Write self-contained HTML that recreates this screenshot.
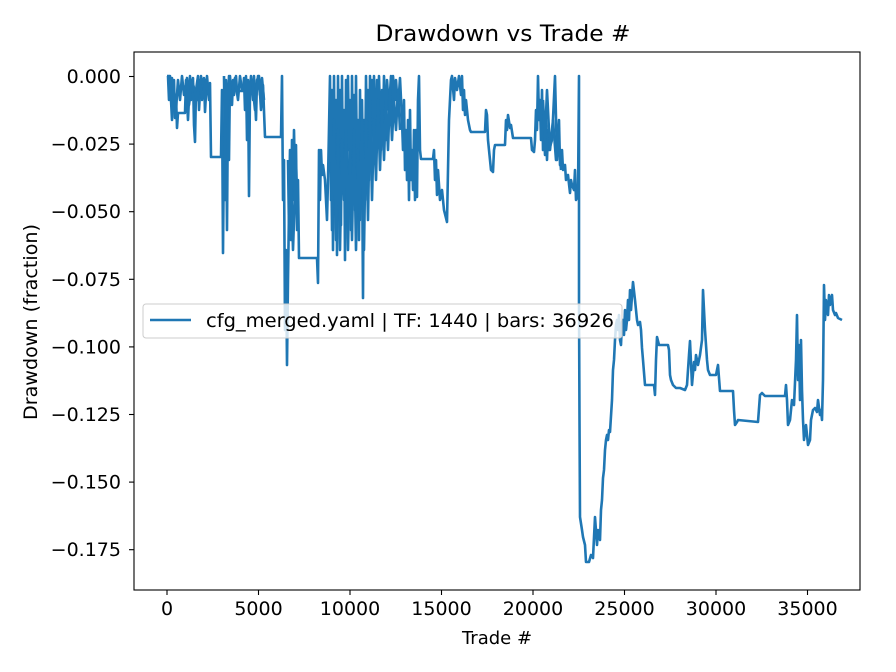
<!DOCTYPE html>
<html><head><meta charset="utf-8"><style>body{margin:0;background:#fff}svg{display:block}text{font-family:"DejaVu Sans","Liberation Sans",sans-serif;fill:#000}</style></head>
<body>
<svg width="896" height="672" viewBox="0 0 896 672" xmlns="http://www.w3.org/2000/svg">
<rect width="896" height="672" fill="#fff"/>
<text x="503" y="41" font-size="22" text-anchor="middle" textLength="255" lengthAdjust="spacingAndGlyphs">Drawdown vs Trade #</text>
<g stroke="#1f77b4" stroke-width="2.6" fill="none" stroke-linejoin="round">
<polyline points="167,76 170,76 171,90 172,78 173,110 174,80 175,118 176,95 177,128 178,113 185,113 186,80 188,120 190,76 191,100 193,78 194,125 195,142 196,90 198,76 199,110 201,76 203,90 204,78 205,112 207,76 209,100 210,83 211,157 221,157 222,90 223,253 224,140 225,200 226,110 227,230 228,95 229,160 230,76 232,105 233,80 234,95 236,76 237,91 243,91 244,78 245,110 246,76 247,140 248,80 249,196 250,90 251,76 253,100 254,76 256,120 257,80 259,76 261,110 263,85 265,137 281,137 282,76 283,200 284,160 285,330 286,250 287,365 288,280 289,210 290,150 291,240 292,140 293,200 294,130 295,180 296,145 297,230 298,180 299,258 317,258 318,283 319,150 320,200 321,150 322,175 323,165 325,180 327,220 328,180 330,76 331,200 332,90 333,250 334,76 335,180 336,100 337,255 338,76 339,170 340,90 341,225 342,76 343,190 344,110 345,260 346,80 347,200 348,76 349,150 350,100 351,230 352,76 353,170 354,95 355,210 356,76 357,180 358,120 359,240 360,90 361,200 362,150 363,298 364,120 365,200 366,76 367,150 368,90 369,180 370,76 371,150 372,80 373,130 374,76 376,160 377,80 378,120 379,76 381,150 382,90 383,130 384,76 386,140 387,80 389,110 391,76 392,120 393,76 395,100 396,80 398,110 400,78 402,120 403,150 404,100 405,170 406,130 407,180 408,120 409,200 410,110 411,180 412,150 413,190 414,130 415,200 416,130 417,197 418,100 419,76 420,150 421,159 433,159 434,150 435,180 436,160 437,195 438,170 440,200 442,190 444,210 447,222 448,170 449,120 450,100 451,80 452,76 454,100 455,78 457,90 459,76 461,95 462,76 463,110 464,90 465,115 466,100 468,120 470,130 471,132 485,132 486,110 487,115 488,140 490,160 491,170 493,172 494,150 495,145 505,145 506,120 507,130 508,115 510,128 511,125 513,138 518,138 531,138 532,150 534,152 535,140 536,110 537,130 538,76 539,120 540,100 541,140 542,90 543,150 544,130 545,155 546,120 547,160 548,130 549,150 552,140 555,76 557,160 559,120 560,165 562,150 563,170 565,165 566,180 568,175 570,193 571,180 572,185 574,190 575,170 576,200 578,195 579,76 579,300 579.5,420 580,517 582,530 583,537 585,545 586,562 589,562 591,555 593,558 595,517 597,545 598,530 600,540 601,510 602,500 603,478 604,470 605,450 606,440 607,435 608,440 609,430 610,432 612,400 613,370 614,360 615,340 616,325 617,320 618,330 619,315 620,340 621,345 622,322 623,320 624,335 625,310 626,330 627,320 628,300 629,320 630,290 631,310 633,282 635,300 637,320 638,325 640,322 641,330 642,348 643,360 645,385 654,385 655,395 656,360 657,337 659,345 668,345 669,350 670,375 671,380 673,385 676,388 680,388 685,390 687,385 688,370 689,355 690,341 692,385 694,362 695,370 696,355 698,365 700,355 702,340 703,290 705,330 707,360 708,370 710,375 712,375 716,375 718,365 720,391 733,391 734,410 735,425 737,422 738,420 758,422 760,395 762,393 765,396 785,396 786,385 787,400 788,425 790,420 792,400 794,405 796,360 797,315 798,380 799,345 800,400 801,340 802,390 803,420 804,440 806,425 808,445 810,440 811,420 813,410 815,408 817,412 818,400 820,415 821,410 822,420 823,380 824,285 825,320 826,300 827,310 828,315 829,295 830,305 831,300 832,295 833,310 835,315 836,313 838,318 842,320"/>
<polyline points="168,76 169,100 170,80 172,120 174,90 176,110 178,80 180,100 182,76 184,95 187,78 189,105 192,80 197,100 200,80 202,100 206,80 208,95"/>
<polyline points="224,76 225,160 226,80 227,120 229,76 231,100 235,78 238,100 240,76 242,90"/>
<polyline points="252,80 255,110 258,76 260,95 262,78 264,100"/>
<polyline points="288,160 289,230 291,170 293,250 296,160 297,200"/>
<polyline points="331,130 332,230 334,120 336,240 338,130 340,250 342,140 344,200 346,130 348,250 350,150 352,240 354,130 356,250 358,150 360,220 362,100 364,250 366,120 368,220 370,100 372,200 374,120 376,180 378,100 380,170 382,110 384,160 386,100 388,150 390,90 392,140 394,100 396,130 398,90 400,130"/>
<polyline points="543,100 545,140 547,90 550,150 553,120 556,160 558,130 561,170"/>
</g>
<rect x="134" y="52" width="726" height="538" fill="none" stroke="#000" stroke-width="1.1"/>
<g stroke="#000" stroke-width="1.1">
<line x1="167" y1="590" x2="167" y2="595"/><line x1="258.5" y1="590" x2="258.5" y2="595"/><line x1="350" y1="590" x2="350" y2="595"/><line x1="441.5" y1="590" x2="441.5" y2="595"/><line x1="533" y1="590" x2="533" y2="595"/><line x1="624.5" y1="590" x2="624.5" y2="595"/><line x1="716" y1="590" x2="716" y2="595"/><line x1="807.5" y1="590" x2="807.5" y2="595"/>
<line x1="129" y1="76.5" x2="134" y2="76.5"/><line x1="129" y1="144.1" x2="134" y2="144.1"/><line x1="129" y1="211.7" x2="134" y2="211.7"/><line x1="129" y1="279.3" x2="134" y2="279.3"/><line x1="129" y1="346.9" x2="134" y2="346.9"/><line x1="129" y1="414.5" x2="134" y2="414.5"/><line x1="129" y1="482.1" x2="134" y2="482.1"/><line x1="129" y1="549.7" x2="134" y2="549.7"/>
</g>
<g font-size="19" text-anchor="middle">
<text x="167" y="615">0</text><text x="258.5" y="615">5000</text><text x="350" y="615">10000</text><text x="441.5" y="615">15000</text><text x="533" y="615">20000</text><text x="624.5" y="615">25000</text><text x="716" y="615">30000</text><text x="807.5" y="615">35000</text>
</g>
<g font-size="19" text-anchor="end">
<text x="121" y="83">0.000</text><text x="121" y="150.6">−0.025</text><text x="121" y="218.2">−0.050</text><text x="121" y="285.8">−0.075</text><text x="121" y="353.4">−0.100</text><text x="121" y="421">−0.125</text><text x="121" y="488.6">−0.150</text><text x="121" y="556.2">−0.175</text>
</g>
<text x="497" y="644" font-size="18" text-anchor="middle">Trade #</text>
<text transform="translate(37,322) rotate(-90)" font-size="19" text-anchor="middle" textLength="196" lengthAdjust="spacingAndGlyphs">Drawdown (fraction)</text>
<rect x="143" y="304" width="479" height="34" rx="3" fill="#fff" fill-opacity="0.8" stroke="#ccc" stroke-width="1"/>
<line x1="150" y1="320" x2="191" y2="320" stroke="#1f77b4" stroke-width="2.6"/>
<text x="206" y="327" font-size="19" textLength="408" lengthAdjust="spacingAndGlyphs">cfg_merged.yaml | TF: 1440 | bars: 36926</text>
</svg>
</body></html>
